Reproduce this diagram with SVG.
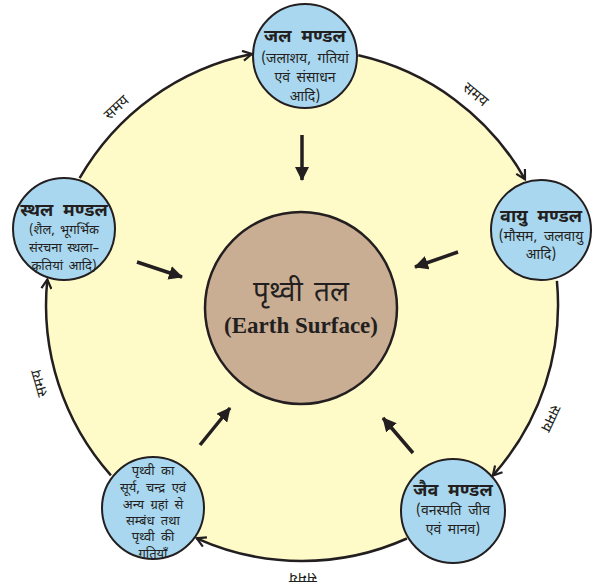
<svg xmlns="http://www.w3.org/2000/svg" width="594" height="586" viewBox="0 0 594 586">
<defs>
<style>
.bg{fill:#FFFBC9;stroke:none}
.node{fill:#A9D7F0;stroke:#231F20;stroke-width:2}
.core{fill:#C9AE94;stroke:#231F20;stroke-width:2.5}
.arc{fill:none;stroke:#231F20;stroke-width:2.5}
.in{fill:none;stroke:#231F20;stroke-width:3.5}
text{fill:#231F20;text-anchor:middle;font-family:"Noto Sans Devanagari","Lohit Devanagari","Noto Serif Devanagari","Noto Sans",sans-serif}
.t{font-size:18px;font-weight:bold;word-spacing:5px}
.b{font-size:14px;word-spacing:3px}
.s{font-size:13px;word-spacing:2px}
.p{font-size:13px;word-spacing:3px}
.lab{font-size:15px}
.ct{font-size:28px;word-spacing:4px}
.ce{font-family:"Liberation Serif",serif;font-size:23px;font-weight:bold}
</style>
<marker id="open" viewBox="0 0 12 12" refX="10" refY="6" markerWidth="12" markerHeight="12" markerUnits="userSpaceOnUse" orient="auto">
<path d="M1,1 L10,6 L1,11" fill="none" stroke="#231F20" stroke-width="2.2"/>
</marker>
<marker id="solid" viewBox="0 0 14 14" refX="13" refY="7" markerWidth="14" markerHeight="14" markerUnits="userSpaceOnUse" orient="auto">
<path d="M0,0 L14,7 L0,14 Z" fill="#231F20"/>
</marker>
</defs>
<circle class="bg" cx="302" cy="305" r="256"/>
<g id="connectors">
<path class="arc" d="M79.6,178.2 A256,256 0 0 1 251.8,54" marker-end="url(#open)"/>
<path class="arc" d="M358.3,55.3 A256,256 0 0 1 525,179.3" marker-end="url(#open)"/>
<path class="arc" d="M556.9,280.9 A256,256 0 0 1 492.8,475.6" marker-end="url(#open)"/>
<path class="arc" d="M406.9,538.5 A256,256 0 0 1 196.7,538.3" marker-end="url(#open)"/>
<path class="arc" d="M110.9,475.3 A256,256 0 0 1 47.3,279.6" marker-end="url(#open)"/>
<line class="in" x1="302" y1="135" x2="302" y2="180" marker-end="url(#solid)"/>
<line class="in" x1="137" y1="262" x2="182" y2="277" marker-end="url(#solid)"/>
<line class="in" x1="458" y1="252" x2="415" y2="267" marker-end="url(#solid)"/>
<line class="in" x1="200" y1="445" x2="230" y2="408" marker-end="url(#solid)"/>
<line class="in" x1="413" y1="453" x2="383" y2="418" marker-end="url(#solid)"/>
<text class="lab" transform="translate(117,108) rotate(-43)" y="4">समय</text>
<text class="lab" transform="translate(475,95) rotate(40)" y="4">समय</text>
<text class="lab" transform="translate(40,383) rotate(-106)" y="4">समय</text>
<text class="lab" transform="translate(550,418) rotate(115)" y="4">समय</text>
<text class="lab" transform="translate(303,577) rotate(180)" y="4">समय</text>
</g>
<g id="earth">
<circle class="core" cx="301" cy="308" r="96"/>
<text class="ct" x="301" y="301">पृथ्वी तल</text>
<text class="ce" x="301" y="333">(Earth Surface)</text>
</g>
<g id="jal">
<circle class="node" cx="305" cy="56" r="52"/>
<text class="t" x="305" y="42">जल मण्डल</text>
<text class="b" x="305" y="63">(जलाशय, गतियां</text>
<text class="b" x="305" y="82">एवं संसाधन</text>
<text class="b" x="305" y="101">आदि)</text>
</g>
<g id="vayu">
<circle class="node" cx="541" cy="230" r="50"/>
<text class="t" x="541" y="222">वायु मण्डल</text>
<text class="b" x="541" y="241">(मौसम, जलवायु</text>
<text class="b" x="541" y="259">आदि)</text>
</g>
<g id="sthal">
<circle class="node" cx="64" cy="229" r="51"/>
<text class="t" x="64" y="216">स्थल मण्डल</text>
<text class="s" x="64" y="234">(शैल, भूगर्भिक</text>
<text class="s" x="64" y="252">संरचना स्थला–</text>
<text class="s" x="64" y="270">कृतियां आदि)</text>
</g>
<g id="jaiv">
<circle class="node" cx="453" cy="511" r="52"/>
<text class="t" x="453" y="496">जैव मण्डल</text>
<text class="b" x="453" y="515">(वनस्पति जीव</text>
<text class="b" x="453" y="534">एवं मानव)</text>
</g>
<g id="prithvi">
<circle class="node" cx="153" cy="508" r="51"/>
<text class="p" x="153" y="475">पृथ्वी का</text>
<text class="p" x="153" y="492">सूर्य, चन्द्र एवं</text>
<text class="p" x="153" y="509">अन्य ग्रहां से</text>
<text class="p" x="153" y="525">सम्बंध तथा</text>
<text class="p" x="153" y="541">पृथ्वी की</text>
<text class="p" x="153" y="558">गतियाँ</text>
</g>
</svg>
